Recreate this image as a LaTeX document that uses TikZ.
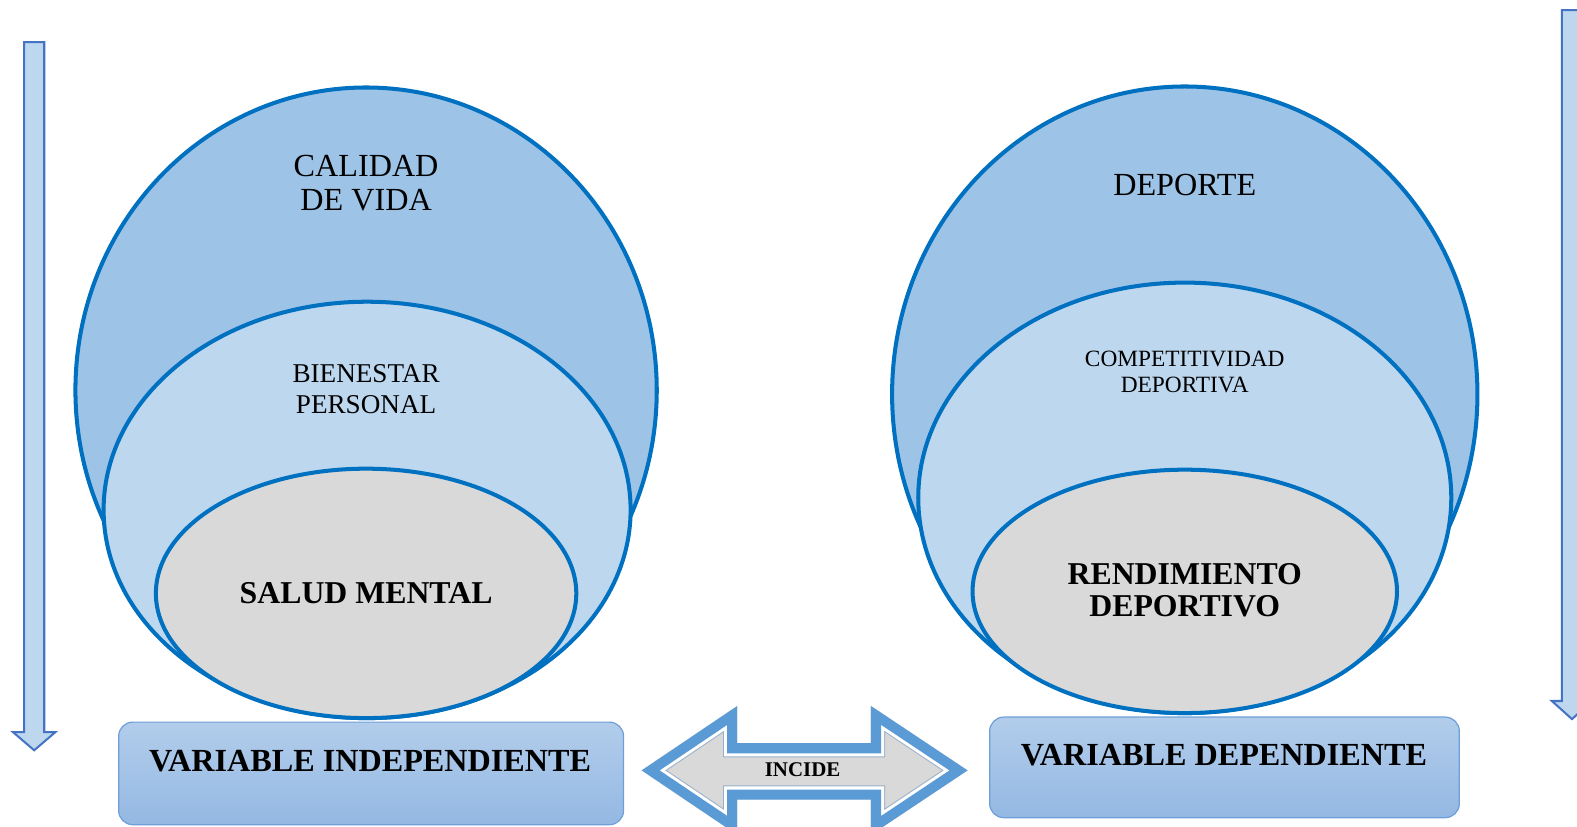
\documentclass[tikz,border=0pt]{standalone}
\usepackage{fontspec}
\setmainfont{Liberation Serif}
\begin{document}
\begin{tikzpicture}[x=0.5pt,y=-0.5pt,
  ring/.style={draw=ringblue,line width=2pt},
  varbox/.style={draw=boxedge,line width=0.6pt,rounded corners=7pt,top color=boxtop,bottom color=boxbot},
  vtext/.style={font=\fontsize{16}{18}\selectfont\bfseries,anchor=center},
  downarrow/.style={fill=arrfill,draw=arredge,line width=1pt,line join=miter},
  lbl/.style={align=center,anchor=center,inner sep=0pt}]
\definecolor{ringblue}{HTML}{0070C0}
\definecolor{bigfill}{HTML}{9DC3E6}
\definecolor{midfill}{HTML}{BDD7EE}
\definecolor{innfill}{HTML}{D9D9D9}
\definecolor{boxedge}{HTML}{6F9FD8}
\definecolor{boxtop}{HTML}{B2CDEB}
\definecolor{boxbot}{HTML}{94B8E3}
\definecolor{arrfill}{HTML}{BDD7EE}
\definecolor{arredge}{HTML}{4472C4}
\definecolor{dblue}{HTML}{5B9BD5}
\definecolor{dline}{HTML}{9AB0C8}
\useasboundingbox (0,0) rectangle (1568,822);
\clip (0,0) rectangle (1568,822);

% vertical arrows
\draw[downarrow] (24,42) -- (44,42) -- (44,728) -- (55,728) -- (34,746) -- (13,728) -- (24,728) -- cycle;
\draw[downarrow] (1553,10) -- (1573,10) -- (1573,697) -- (1583,697) -- (1563,715) -- (1543,697) -- (1553,697) -- cycle;

% left nest
\filldraw[ring,fill=bigfill] (364,388) ellipse [x radius=289,y radius=301];
\filldraw[ring,fill=midfill] (365,507) ellipse [x radius=262,y radius=207];
\filldraw[ring,fill=innfill] (364,590) ellipse [x radius=209,y radius=124];

% right nest
\filldraw[ring,fill=bigfill] (1178,392) ellipse [x radius=291,y radius=306];
\filldraw[ring,fill=midfill] (1178,495) ellipse [x radius=265,y radius=214];
\filldraw[ring,fill=innfill] (1178,588) ellipse [x radius=211,y radius=121];

% labels
\node[lbl,font=\fontsize{16}{17}\selectfont] (calidad) at (364,182) {CALIDAD\\DE VIDA};
\node[lbl,font=\fontsize{13.5}{15}\selectfont] (bienestar) at (364,387) {BIENESTAR\\PERSONAL};
\node[lbl,font=\fontsize{15.8}{16}\selectfont\bfseries] (salud) at (364,590) {SALUD MENTAL};
\node[lbl,font=\fontsize{16}{17}\selectfont] (deporte) at (1178,184) {DEPORTE};
\node[lbl,font=\fontsize{11.6}{13}\selectfont] (compet) at (1178,370) {COMPETITIVIDAD\\DEPORTIVA};
\node[lbl,font=\fontsize{15.8}{16}\selectfont\bfseries] (rend) at (1178,587) {RENDIMIENTO\\DEPORTIVO};

% variable boxes
\path[varbox] (118,718) rectangle (620,820);
\node[vtext] (vi) at (368,757) {VARIABLE INDEPENDIENTE};
\path[varbox] (984,713) rectangle (1451,813);
\node[vtext] (vd) at (1217,751) {VARIABLE DEPENDIENTE};

% double arrow
\begin{scope}
\clip (638,766) -- (733,702) -- (733,739) -- (866,739) -- (866,702) -- (962,766) -- (866,830) -- (866,795) -- (733,795) -- (733,830) -- cycle;
\fill[innfill] (638,766) -- (733,702) -- (733,739) -- (866,739) -- (866,702) -- (962,766) -- (866,830) -- (866,795) -- (733,795) -- (733,830) -- cycle;
\draw[dline,line width=14pt,line join=miter] (638,766) -- (733,702) -- (733,739) -- (866,739) -- (866,702) -- (962,766) -- (866,830) -- (866,795) -- (733,795) -- (733,830) -- cycle;
\draw[white,line width=13pt,line join=miter] (638,766) -- (733,702) -- (733,739) -- (866,739) -- (866,702) -- (962,766) -- (866,830) -- (866,795) -- (733,795) -- (733,830) -- cycle;
\draw[dblue,line width=10pt,line join=miter] (638,766) -- (733,702) -- (733,739) -- (866,739) -- (866,702) -- (962,766) -- (866,830) -- (866,795) -- (733,795) -- (733,830) -- cycle;
\end{scope}
\node[lbl,font=\fontsize{10.4}{12}\selectfont\bfseries] (incide) at (798,765) {INCIDE};
\end{tikzpicture}
\end{document}
